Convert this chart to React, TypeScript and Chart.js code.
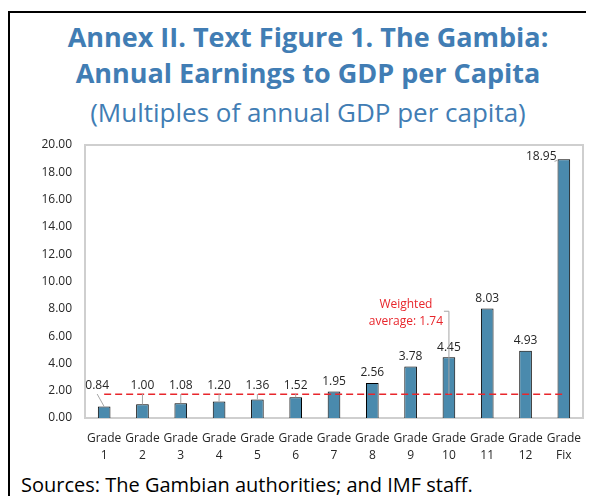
import React, { useEffect, useRef } from "react";
import { Chart, registerables } from "chart.js";

Chart.register(...registerables);

const gradeLabels = ["1", "2", "3", "4", "5", "6", "7", "8", "9", "10", "11", "12", "Fix"];
const earnings = [0.84, 1.0, 1.08, 1.2, 1.36, 1.52, 1.95, 2.56, 3.78, 4.45, 8.03, 4.93, 18.95];
const weightedAverage = 1.74;
const yTicksMax = 20;
const yTickStep = 2;

const FONT = '"Open Sans", "Noto Sans", sans-serif';
const TITLE_COLOR = "#417db4";
const TEXT_COLOR = "#262626";
const BAR_COLOR = "#4a8aad";
const RED = "#e8262c";
const LEADER = "#a6a6a6";

const boxPlugin = {
  id: "boxPlugin",
  beforeDatasetsDraw(chart: any) {
    const { ctx, chartArea } = chart;
    ctx.save();
    ctx.strokeStyle = "#cfcfcf";
    ctx.lineWidth = 2;
    ctx.strokeRect(chartArea.left, chartArea.top, chartArea.right - chartArea.left, chartArea.bottom - chartArea.top);
    ctx.restore();
  },
};

const labelPlugin = {
  id: "labelPlugin",
  afterDatasetsDraw(chart: any) {
    const { ctx, chartArea } = chart;
    const meta = chart.getDatasetMeta(0);
    const capY = chartArea.bottom - 32;
    ctx.save();
    ctx.font = `12px ${FONT}`;
    ctx.fillStyle = TEXT_COLOR;
    ctx.textBaseline = "middle";
    meta.data.forEach((bar: any, i: number) => {
      const v = earnings[i];
      const top = bar.y;
      const txt = v.toFixed(2);
      if (top - 12 < chartArea.top + 4) {
        const left = bar.x - bar.width / 2;
        ctx.textAlign = "right";
        ctx.fillStyle = TEXT_COLOR;
        ctx.fillText(txt, left - 1, top - 3);
        ctx.strokeStyle = LEADER;
        ctx.lineWidth = 1;
        ctx.beginPath();
        ctx.moveTo(left - 3, top + 2);
        ctx.lineTo(left, top + 1);
        ctx.stroke();
        return;
      }
      const ly = Math.min(top - 10, capY);
      const lx = bar.x + (i === 0 ? -7 : 0);
      ctx.textAlign = "center";
      ctx.fillStyle = TEXT_COLOR;
      ctx.fillText(txt, lx, ly);
      if (top - (ly + 8) > 3) {
        ctx.strokeStyle = LEADER;
        ctx.lineWidth = 1;
        ctx.beginPath();
        ctx.moveTo(lx, ly + 8);
        ctx.lineTo(bar.x, top);
        ctx.stroke();
      }
    });
    const xs = chart.scales.x;
    const ys = chart.scales.y;
    const px = xs.getPixelForValue(9);
    const py = ys.getPixelForValue(weightedAverage);
    ctx.strokeStyle = LEADER;
    ctx.lineWidth = 1;
    ctx.beginPath();
    ctx.moveTo(px - 5, py - 83);
    ctx.lineTo(px, py - 83);
    ctx.lineTo(px, py);
    ctx.stroke();
    ctx.fillStyle = RED;
    ctx.textAlign = "center";
    ctx.fillText("Weighted", px - 43, py - 90);
    ctx.fillText("average: " + weightedAverage.toFixed(2), px - 43, py - 73);
    ctx.restore();
  },
};

function ChartBox() {
  const ref = useRef<HTMLCanvasElement | null>(null);
  useEffect(() => {
    document.documentElement.style.overflow = "hidden";
    const canvas = ref.current!;
    const chart = new Chart(canvas, {
      type: "bar",
      data: {
        labels: gradeLabels.map((g) => ["Grade", g]),
        datasets: [
          {
            type: "bar",
            data: earnings,
            backgroundColor: BAR_COLOR,
            borderColor: "#000000",
            borderWidth: 1,
            barPercentage: 0.33,
            categoryPercentage: 1,
            order: 1,
          } as any,
          {
            type: "line",
            data: gradeLabels.map(() => weightedAverage),
            borderColor: RED,
            borderWidth: 1.6,
            borderDash: [7, 4],
            pointRadius: 0,
            fill: false,
            order: 0,
          } as any,
        ],
      },
      options: {
        responsive: false,
        animation: false,
        devicePixelRatio: 1,
        layout: { padding: { top: 15, right: 11, left: 0, bottom: 0 } },
        plugins: { legend: { display: false }, tooltip: { enabled: false }, title: { display: false } },
        scales: {
          x: {
            grid: { display: false, drawTicks: false },
            border: { display: false },
            ticks: {
              font: { family: FONT, size: 12, lineHeight: 1.4 },
              color: TEXT_COLOR,
              padding: 12,
              maxRotation: 0,
              autoSkip: false,
            },
            afterFit(scale: any) {
              scale.height = 52;
              scale.paddingLeft = 0;
              scale.paddingRight = 0;
            },
          },
          y: {
            min: 0,
            max: yTicksMax,
            grid: { display: false, drawTicks: false },
            border: { display: false },
            ticks: {
              stepSize: yTickStep,
              font: { family: FONT, size: 12 },
              color: TEXT_COLOR,
              padding: 13,
              callback: (v: any) => Number(v).toFixed(2),
            },
            afterFit(scale: any) {
              scale.width = 75;
              scale.paddingTop = 0;
              scale.paddingBottom = 0;
            },
          },
        },
      },
      plugins: [boxPlugin, labelPlugin],
    } as any);
    return () => chart.destroy();
  }, []);
  return (
    <canvas
      ref={ref}
      width={584}
      height={340}
      style={{ position: "absolute", left: 2, top: 122, width: 584, height: 340 }}
    />
  );
}

export default function App() {
  const line = (top: number, extra: React.CSSProperties, text: string) => (
    <div
      style={{
        position: "absolute",
        left: 0,
        width: 600,
        top,
        height: 36,
        lineHeight: "36px",
        textAlign: "center",
        whiteSpace: "nowrap",
        fontFamily: FONT,
        color: TITLE_COLOR,
        ...extra,
      }}
    >
      {text}
    </div>
  );
  return (
    <div style={{ position: "relative", width: 586, height: 488, overflow: "hidden" }}>
      <div
        style={{
          position: "absolute",
          left: 0,
          top: 3,
          width: 586,
          height: 485,
          borderTop: "2px solid #000",
          borderLeft: "2px solid #000",
          boxSizing: "border-box",
        }}
      />
      {line(11, { fontSize: 27, fontWeight: 700 }, "Annex II. Text Figure 1. The Gambia:")}
      {line(47, { fontSize: 27, fontWeight: 700 }, "Annual Earnings to GDP per Capita")}
      {line(86, { fontSize: 26, fontWeight: 400 }, "(Multiples of annual GDP per capita)")}
      <ChartBox />
      <div
        style={{
          position: "absolute",
          left: 13,
          top: 463,
          height: 28,
          lineHeight: "28px",
          fontFamily: FONT,
          fontSize: 20,
          color: "#000",
          whiteSpace: "nowrap",
        }}
      >
        Sources: The Gambian authorities; and IMF staff.
      </div>
    </div>
  );
}
